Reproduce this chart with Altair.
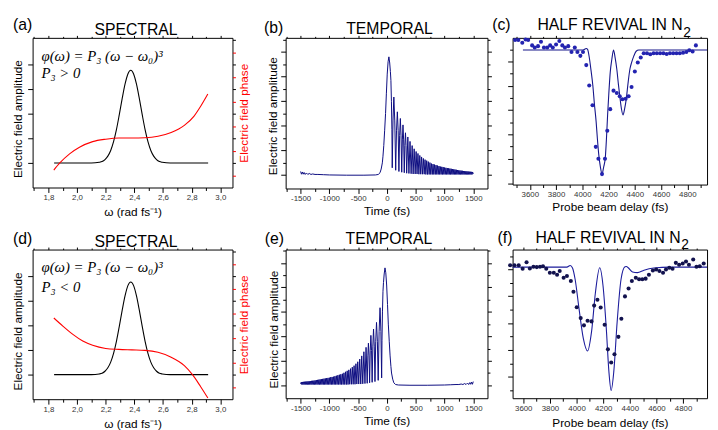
import altair as alt
import pandas as pd

SANS = "Liberation Sans"
SERIF = "Liberation Serif"
NAVY = "#0c0c80"

# ---------------- (a)/(d) spectral amplitude (arb. units) ----------------
spec_w = [1.84, 2.10, 2.155, 2.175, 2.195, 2.215, 2.235, 2.255, 2.275, 2.295,
          2.315, 2.335, 2.355, 2.375, 2.395, 2.415, 2.435, 2.455, 2.475, 2.495,
          2.515, 2.535, 2.555, 2.575, 2.595, 2.65, 2.915]
spec_amp = [0, 0, 0.03, 0.06, 0.14, 0.28, 0.51, 0.87, 1.36, 1.97,
            2.62, 3.21, 3.63, 3.78, 3.63, 3.21, 2.62, 1.97, 1.36, 0.87,
            0.51, 0.28, 0.14, 0.06, 0.03, 0, 0]

# spectral phase, P3 > 0 (a) and P3 < 0 (d)
phase_pos_w = [1.838, 1.880, 1.948, 2.017, 2.109, 2.200, 2.291, 2.383, 2.474, 2.565,
               2.657, 2.749, 2.817, 2.863, 2.913]
phase_pos = [-0.29, 0.0, 0.37, 0.64, 0.87, 0.97, 1.02, 1.02, 1.03, 1.09,
             1.24, 1.53, 1.91, 2.31, 2.81]
phase_neg_w = [1.838, 1.903, 1.971, 2.040, 2.109, 2.200, 2.291, 2.383, 2.474, 2.565,
               2.657, 2.749, 2.806, 2.863, 2.913]
phase_neg = [2.31, 1.97, 1.64, 1.37, 1.20, 1.07, 1.03, 1.01, 0.99, 0.91,
             0.71, 0.37, 0.0, -0.49, -0.95]

# ---------------- (b) temporal field amplitude ----------------
pre_t = [-1500, -1485, -1470, -1455, -1440, -1420, -1400, -1375, -1350, -1320,
         -1290, -1250, -1200, -1100, -1000, -700, -400, -200, -150]
pre_a = [0.15, 0.04, 0.13, 0.04, 0.11, 0.03, 0.09, 0.03, 0.07, 0.03,
         0.05, 0.03, 0.03, 0.02, 0.01, 0.0, 0.0, 0.01, 0.03]
main_t = [-120, -100, -80, -69, -55, -40, -24, -10, 5, 20, 34, 48, 60, 69, 78, 86, 92]
main_a = [0.1, 0.25, 0.5, 0.77, 1.2, 1.8, 2.5, 3.3, 4.1, 4.6, 4.8, 4.55, 4.2, 3.84, 3.0, 1.84, 0.3]
lobe_t = [105, 120, 136, 152, 166, 181, 195, 208, 220, 233,
          245, 257, 268, 279, 290, 301, 311, 322, 332, 343]
lobe_a = [2.2, 3.17, 2.2, 0.2, 1.8, 2.57, 1.8, 0.15, 1.6, 2.3,
          1.6, 0.12, 1.43, 2.04, 1.43, 0.1, 1.2, 1.72, 1.2, 0.08]
tail_t = [363, 382, 401, 420, 438, 455, 473, 490, 507, 523,
          539, 555, 571, 587, 602, 617, 632, 647, 662, 676,
          691, 705, 719, 733, 747, 761, 774, 788, 801, 814,
          827, 840, 853, 866, 879, 891, 904, 916, 928, 941,
          953, 965, 977, 989, 1001, 1013, 1025, 1037, 1049, 1060,
          1071, 1083, 1094, 1105, 1117, 1128, 1139, 1150, 1161, 1172,
          1183, 1194, 1205, 1215, 1226, 1237, 1248, 1258, 1269, 1279,
          1290, 1300, 1310, 1320, 1331, 1341, 1351, 1361, 1371, 1381,
          1391, 1401, 1411, 1420, 1430, 1440, 1450, 1460, 1469, 1479,
          1488, 1500]
tail_a = [1.55, 0.07, 1.37, 0.06, 1.2, 0.05, 1.07, 0.05, 0.96, 0.05,
          0.88, 0.04, 0.8, 0.04, 0.74, 0.04, 0.68, 0.04, 0.63, 0.03,
          0.59, 0.03, 0.55, 0.03, 0.51, 0.03, 0.47, 0.03, 0.45, 0.03,
          0.43, 0.03, 0.41, 0.03, 0.39, 0.03, 0.37, 0.03, 0.35, 0.03,
          0.34, 0.03, 0.33, 0.03, 0.31, 0.03, 0.30, 0.03, 0.29, 0.03,
          0.28, 0.03, 0.27, 0.03, 0.26, 0.03, 0.25, 0.03, 0.24, 0.03,
          0.23, 0.03, 0.22, 0.03, 0.21, 0.03, 0.20, 0.03, 0.19, 0.03,
          0.185, 0.03, 0.18, 0.03, 0.17, 0.03, 0.165, 0.03, 0.16, 0.03,
          0.155, 0.03, 0.15, 0.03, 0.145, 0.03, 0.14, 0.03, 0.135, 0.03,
          0.13, 0.05]

# ---------------- (c) half revival, measured points and fit ----------------
c_delay = [3487.5, 3512.5, 3542.5, 3567.5, 3587.5, 3617.5, 3637.5, 3662.5, 3685, 3707.5,
           3732.5, 3755, 3775, 3800, 3825, 3847.5, 3867.5, 3892.5, 3917.5, 3942.5,
           3962.5, 3985, 4005, 4030, 4052.5, 4077.5, 4102.5, 4122.5, 4150, 4172.5,
           4190, 4212.5, 4237.5, 4262.5, 4285, 4305, 4330, 4352.5, 4375, 4400,
           4422.5, 4445, 4467.5, 4492.5, 4517.5, 4542.5, 4567.5, 4592.5, 4617.5, 4642.5,
           4667.5, 4692.5, 4717.5, 4742.5, 4767.5, 4792.5, 4815, 4840, 4865]
c_signal = [0.88, 0.88, 0.77, 0.90, 0.88, 0.66, 0.57, 0.63, 0.81, 0.57,
            0.57, 0.66, 0.57, 0.70, 0.84, 0.66, 0.57, 0.63, 0.39, 0.57,
            0.39, 0.23, 0.39, -0.15, -0.99, -1.80, -3.51, -4.00, -4.63, -4.00,
            -2.85, -1.96, -1.20, -1.30, -1.43, -1.55, -1.53, -1.43, -1.05, -0.41,
            -0.04, 0.16, 0.34, 0.34, 0.30, 0.34, 0.34, 0.34, 0.34, 0.31,
            0.34, 0.34, 0.34, 0.34, 0.36, 0.39, 0.46, 0.41, 0.66]
c_fit_delay = [3547.5, 4005, 4030, 4040, 4055, 4067, 4080, 4092, 4105, 4115,
               4125, 4138, 4150, 4162, 4175, 4184, 4192.5, 4202, 4212.5, 4225,
               4237.5, 4250, 4262.5, 4275, 4287.5, 4298, 4310, 4322, 4335, 4348,
               4362.5, 4375, 4392.5, 4410, 4430, 4950]
c_fit_signal = [0.47, 0.47, 0.53, 0.50, 0.09, -0.40, -0.99, -1.75, -2.47, -3.20,
                -3.82, -4.35, -4.63, -4.35, -3.95, -3.15, -2.20, -1.30, -0.45, 0.10,
                0.47, 0.15, -0.31, -0.95, -1.53, -1.95, -2.20, -1.95, -1.53, -0.90,
                -0.31, -0.05, 0.23, 0.42, 0.47, 0.47]

# ---------------- (f) half revival, measured points and fit ----------------
f_delay = [3501.8, 3533.8, 3565.8, 3595.4, 3624.9, 3649.5, 3676.6, 3701.3, 3725.9, 3748.1,
           3772.7, 3799.8, 3829.4, 3854, 3873.7, 3903.2, 3927.9, 3957.4, 3977.1, 4001.7,
           4031.3, 4055.9, 4083, 4112.6, 4132.3, 4156.9, 4181.5, 4211.1, 4235.7, 4260.4,
           4285, 4314.5, 4336.7, 4363.8, 4390.9, 4415.5, 4445.1, 4469.7, 4494.3, 4518.9,
           4543.6, 4573.2, 4597.8, 4622.4, 4649.5, 4671.7, 4696.3, 4721, 4745.6, 4770.2,
           4797.3, 4821.9, 4844.1, 4876.1, 4900.7, 4925.4, 4954.9]
f_signal = [0.158, 0.158, 0.158, 0.023, 0.268, 0.035, 0.097, 0.085, 0.097, 0.121,
            0.023, -0.124, -0.124, -0.197, -0.063, -0.308, -0.246, -0.43, -0.835, -1.41,
            -1.815, -2.085, -1.913, -1.937, -1.349, -1.129, -1.423, -2.06, -2.979, -3.469,
            -3.163, -2.514, -1.84, -1.006, -0.712, -0.43, -0.308, -0.369, -0.369, -0.344,
            -0.197, -0.038, -0.001, -0.063, -0.124, -0.001, 0.06, 0.023, 0.244, 0.17,
            0.219, 0.293, 0.17, 0.366, 0.097, 0.121, 0.219]
f_fit_delay = [3520, 3928, 3952.5, 3970, 3989.4, 4019, 4051, 4083, 4112.6, 4142,
               4174, 4199, 4223.5, 4243, 4260, 4280, 4305, 4334.3, 4363.8, 4375,
               4388.5, 4420.5, 4457.4, 4506.6, 4580, 4703.7, 4980]
f_fit_signal = [0.085, 0.085, 0.146, 0.05, -0.368, -1.47, -2.57, -3.04, -2.33, -0.86,
                0.06, -0.61, -2.2, -3.8, -4.51, -3.8, -1.96, -0.368, 0.097, 0.11,
                0.06, -0.099, -0.12, -0.03, 0.05, 0.085, 0.085]

# ---------------- tick positions ----------------
spec_ticks = [1.7, 1.8, 1.9, 2.0, 2.1, 2.2, 2.3, 2.4, 2.5, 2.6, 2.7, 2.8, 2.9, 3.0]
amp_ticks = [0, 1, 2, 3, 4]
phase_ticks = [-0.5, 0, 0.5, 1, 1.5, 2, 2.5, 3, 3.5, 4, 4.5, 5]
time_ticks = [-1750, -1500, -1250, -1000, -750, -500, -250, 0, 250, 500, 750, 1000, 1250, 1500]
temp_ticks = [0, 0.5, 1, 1.5, 2, 2.5, 3, 3.5, 4, 4.5, 5, 5.5]
delay_ticks_c = [3500, 3600, 3700, 3800, 3900, 4000, 4100, 4200, 4300, 4400, 4500, 4600, 4700, 4800, 4900]
delay_ticks_f = [3600, 3700, 3800, 3900, 4000, 4100, 4200, 4300, 4400, 4500, 4600, 4700, 4800, 4900]
sig_ticks_c = [-5, -4.5, -4, -3.5, -3, -2.5, -2, -1.5, -1, -0.5, 0, 0.5]
sig_ticks_f = [-4.5, -4, -3.5, -3, -2.5, -2, -1.5, -1, -0.5, 0, 0.5]

AXIS_BASE = dict(labelFont=SANS, labelFontSize=8, labelColor="#333333",
                 titleFont=SANS, titleFontSize=12, titleFontWeight="normal",
                 titleColor="black", domain=False, grid=False, tickColor="black",
                 tickWidth=1, labelOverlap=False, labelFlush=False)


def ax(**kw):
    d = dict(AXIS_BASE)
    d.update(kw)
    return alt.Axis(**d)


def cond(test, a, b):
    return {"condition": {"test": test, "value": a}, "value": b}


def lin(dom):
    return alt.Scale(domain=dom, nice=False, zero=False)


def text(s, x, y, size=16, font=SANS, style="normal", align="left", color="black"):
    return alt.Chart(pd.DataFrame({"k": [0]})).mark_text(
        align=align, baseline="alphabetic", fontSize=size, font=font,
        fontStyle=style, color=color).encode(
        x=alt.value(x), y=alt.value(y), text=alt.value(s))


def spectral(ph_w, ph_v, letter, sign, lab_y, ttl_y, ytp, yty, f1y, f2y):
    xs = lin([1.69, 3.085])
    ys = lin([-1.0, 5.1])
    major = "round(datum.value * 10) % 2 == 0"
    amp = alt.Chart(pd.DataFrame({"w": spec_w, "v": spec_amp})).mark_line(
        color="black", strokeWidth=1.1, interpolate="monotone").encode(
        x=alt.X("w:Q", scale=xs, axis=ax(
            values=spec_ticks, title="ω  (rad fs⁻¹)",
            labelExpr=major + " ? replace(format(datum.value, '.1f'), '.', ',') : ''",
            tickSize=cond(major, 5, 3), labelPadding=1.5, titlePadding=5)),
        y=alt.Y("v:Q", scale=ys, axis=ax(
            values=amp_ticks, labels=False, tickSize=5,
            title="Electric field amplitude", titlePadding=ytp, titleY=yty)))
    ph = alt.Chart(pd.DataFrame({"w": ph_w, "v": ph_v})).mark_line(
        color="#ff0000", strokeWidth=1.1, interpolate="monotone").encode(
        x=alt.X("w:Q", scale=xs, axis=ax(
            orient="top", values=spec_ticks, labels=False,
            tickSize=cond(major, 2.5, 1.5), title=None)),
        y=alt.Y("v:Q", scale=ys, axis=ax(
            orient="right", values=phase_ticks, labels=False, tickSize=3,
            tickColor=cond("datum.value % 1 == 0", "black", "#ff0000"),
            title="Electric field phase", titleColor="#ff0000", titleAngle=270,
            titleBaseline="top", titlePadding=3)))
    layers = [amp, ph,
              text(letter, -20, lab_y),
              text("SPECTRAL", 105, ttl_y, align="center"),
              text("φ(ω) = P₃ (ω − ω₀)³", 9, f1y, size=15, font=SERIF, style="italic"),
              text(sign, 9, f2y, size=15, font=SERIF, style="italic")]
    return alt.layer(*layers).resolve_axis(x="independent", y="independent").properties(
        width=203, height=152)


def temporal(t, a, letter, lab_x, lab_y, ttl_x, ttl_y, ytp, yty, ydom, h):
    xs = lin([-1760, 1747])
    ys = lin(ydom)
    xmaj = "datum.value % 500 == 0"
    ymaj = "datum.value % 1 == 0"
    df = pd.DataFrame({"t": t, "a": a})
    line = alt.Chart(df).mark_line(color=NAVY, strokeWidth=1).encode(
        x=alt.X("t:Q", scale=xs, axis=ax(
            values=time_ticks, title="Time (fs)",
            labelExpr=xmaj + " ? (datum.value < 0 ? '-' : '') + format(abs(datum.value), 'd') : ''",
            tickSize=cond(xmaj, 5, 3), labelPadding=1.5, titlePadding=3)),
        y=alt.Y("a:Q", scale=ys, axis=ax(
            values=temp_ticks, labels=False, tickSize=cond(ymaj, 5, 3),
            title="Electric field amplitude", titlePadding=ytp, titleY=yty)))
    mirror = alt.Chart(df).mark_line(strokeOpacity=0).encode(
        x=alt.X("t:Q", scale=xs, axis=ax(
            orient="top", values=time_ticks, labels=False,
            tickSize=cond(xmaj, 2.5, 1.5), title=None)),
        y=alt.Y("a:Q", scale=ys, axis=ax(
            orient="right", values=temp_ticks, labels=False,
            tickSize=cond(ymaj, 4, 2.5), title=None)))
    layers = [line, mirror, text(letter, lab_x, lab_y),
              text("TEMPORAL", ttl_x, ttl_y, align="center")]
    return alt.layer(*layers).resolve_axis(x="independent", y="independent").properties(
        width=205, height=h)


def revival(pt_d, pt_s, fit_d, fit_s, xdom, ydom, xvals, yvals, dot_color, line_color,
            letter, lab_x, lab_y, ttl_y, sub_x, sub_y, h, tpad):
    xs = lin(xdom)
    ys = lin(ydom)
    xmaj = "datum.value % 200 == 0"
    ymaj = "datum.value % 1 == 0"
    fit = alt.Chart(pd.DataFrame({"d": fit_d, "s": fit_s})).mark_line(
        color=line_color, strokeWidth=1.1, interpolate="monotone").encode(
        x=alt.X("d:Q", scale=xs, axis=ax(
            values=xvals, title="Probe beam delay (fs)",
            labelExpr=xmaj + " ? format(datum.value, 'd') : ''",
            tickSize=cond(xmaj, 5, 3), labelPadding=1.5, titlePadding=tpad)),
        y=alt.Y("s:Q", scale=ys, axis=ax(
            values=yvals, labels=False, tickSize=cond(ymaj, 5, 3), title=None)))
    dots = alt.Chart(pd.DataFrame({"d": pt_d, "s": pt_s})).mark_circle(
        size=17, color=dot_color, opacity=1).encode(
        x=alt.X("d:Q", scale=xs, axis=ax(
            orient="top", values=xvals, labels=False,
            tickSize=cond(xmaj, 2.5, 1.5), title=None)),
        y=alt.Y("s:Q", scale=ys, axis=None))
    layers = [fit, dots, text(letter, lab_x, lab_y),
              text("HALF REVIVAL IN N", sub_x - 0.5, ttl_y, align="right"),
              text("2", sub_x, sub_y, size=14)]
    return alt.layer(*layers).resolve_axis(x="independent", y="independent").properties(
        width=197.5, height=h)


def spacer():
    return alt.Chart(pd.DataFrame({"k": [0]})).mark_point(opacity=0).encode(
        x=alt.X("k:Q", axis=None), y=alt.Y("k:Q", axis=None)).properties(
        width=3, height=1, view=alt.ViewBackground(stroke="transparent"))


temporal_t = pre_t + main_t + lobe_t + tail_t
temporal_amp = pre_a + main_a + lobe_a + tail_a
# panel (e) is the time-reversed pulse of panel (b)
temporal_t_rev = [-v for v in reversed(temporal_t)]
temporal_amp_rev = list(reversed(temporal_amp))

pa = spectral(phase_pos_w, phase_pos, "(a)", "P₃ > 0", -8.2, -3.4, 3, 82, 24, 41)
pb = temporal(temporal_t, temporal_amp, "(b)", -22, -4.5, 105.5, -4.3, 0.5, 79,
              [-0.54, 5.57], 153)
pc = revival(c_delay, c_signal, c_fit_delay, c_fit_signal, [3468.75, 4950], [-5.06, 0.97],
             delay_ticks_c, sig_ticks_c, "#2323b0", "#16168a",
             "(c)", -20.7, -7.5, -8, 173.3, -1.3, 149, 2.5)
pd_ = spectral(phase_neg_w, phase_neg, "(d)", "P₃ < 0", -5.7, -2.5, 2.3, 82.7, 23, 43)
pe = temporal(temporal_t_rev, temporal_amp_rev, "(e)", -21.3, -5.2, 104.8, -5.7, 0, 80.8,
              [-0.53, 5.55], 151)
pf = revival(f_delay, f_signal, f_fit_delay, f_fit_signal, [3520, 4980], [-4.8, 0.74],
             delay_ticks_f, sig_ticks_f, "#12124e", "#1c1c9c",
             "(f)", -15.3, -6.3, -6.6, 171.3, -0.5, 151, 5.5)

chart = alt.concat(
    pa, spacer(), pb, pc, pd_, spacer(), pe, pf,
    columns=4, spacing={"row": 62, "column": 25.5}, bounds="flush", align="each"
).properties(
    padding={"left": 3, "top": 5, "right": 0, "bottom": 0}
).configure(font=SANS).configure_view(stroke="black", strokeWidth=1)

chart.save("out.html", embed_options={"renderer": "svg", "actions": False})
